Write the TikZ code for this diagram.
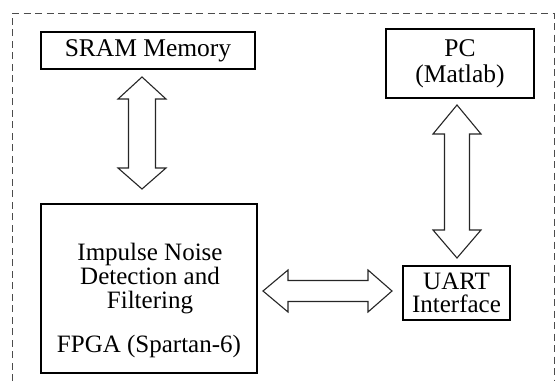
\documentclass[tikz,border=0pt]{standalone}
\usepackage{fontspec}
\setmainfont{Liberation Serif}
\begin{document}
\begin{tikzpicture}[x=1pt,y=-1pt,
  blk/.style={draw=black, line width=1.2pt, fill=white, inner sep=0pt, align=center,
    font=\fontsize{25.5}{26}\selectfont},
  txt/.style={font=\fontsize{25}{24}\selectfont, align=center, inner sep=0pt},
  fatarrow/.style={draw=black!85, line width=1.1pt, fill=white, line join=miter},
  frame/.style={draw=black!70, line width=0.9pt, dash pattern=on 7pt off 4.5pt}]
\useasboundingbox (0,0) rectangle (555,381);
\draw[frame] (12,381) -- (12,13) -- (554,13) -- (554,381);
\node[blk, minimum width=214pt, minimum height=37pt] (sram) at (148,50.5) {SRAM Memory};
\node[blk, minimum width=148pt, minimum height=69pt] (pc) at (460,63.5) {PC\\(Matlab)};
\node[blk, minimum width=107pt, minimum height=54pt, font=\fontsize{25}{23}\selectfont] (uart) at (456.5,293) {UART\\Interface};
\node[blk, minimum width=216pt, minimum height=169pt] (fpga) at (149,288.5) {};
\node[txt, anchor=base] (fpgatxt) at (150,308) {Impulse Noise\\Detection and\\Filtering};
\node[txt, anchor=base] (fpgalbl) at (149,352) {FPGA (Spartan-6)};
% arrows
\draw[fatarrow] (142,77) -- (166,99) -- (155.5,99) -- (155.5,168) -- (166,168) -- (142,189)
  -- (118,168) -- (128.5,168) -- (128.5,99) -- (118,99) -- cycle;
\draw[fatarrow] (457,105) -- (481,134) -- (469.5,134) -- (469.5,230) -- (481,230) -- (457,258)
  -- (433,230) -- (444.5,230) -- (444.5,134) -- (433,134) -- cycle;
\draw[fatarrow] (263,291) -- (288,270) -- (288,280.5) -- (368,280.5) -- (368,270) -- (392,291)
  -- (368,312) -- (368,301.5) -- (288,301.5) -- (288,312) -- cycle;
\end{tikzpicture}
\end{document}
